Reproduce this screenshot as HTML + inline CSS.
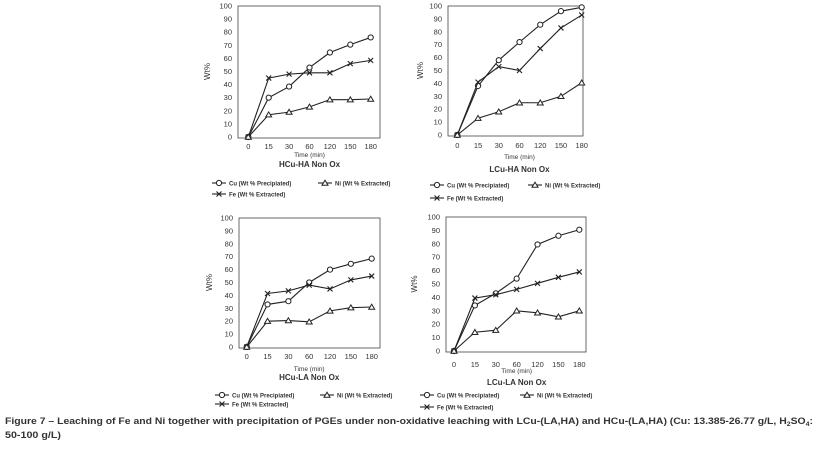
<!DOCTYPE html>
<html><head><meta charset="utf-8"><style>
html,body{margin:0;padding:0;background:#fff;}
svg{display:block;font-family:"Liberation Sans",sans-serif;}
</style></head><body>
<svg id="fig" width="819" height="449" viewBox="0 0 819 449" xmlns="http://www.w3.org/2000/svg">
<text x="5" y="424" font-size="9" font-weight="bold" fill="#333" textLength="808" lengthAdjust="spacingAndGlyphs">Figure 7 – Leaching of Fe and Ni together with precipitation of PGEs under non-oxidative leaching with LCu-(LA,HA)  and HCu-(LA,HA) (Cu: 13.385-26.77 g/L, H<tspan font-size="6" dy="2">2</tspan><tspan dy="-2">SO</tspan><tspan font-size="6" dy="2">4</tspan><tspan dy="-2">:</tspan></text>
<text x="5" y="438" font-size="9" font-weight="bold" fill="#333" textLength="56" lengthAdjust="spacingAndGlyphs">50-100 g/L)</text>
</svg>
<script>
const categories = ["0","15","30","60","120","150","180"];
const yTicks = [0,10,20,30,40,50,60,70,80,90,100];
const cuHCuHA = [0,30,38.5,53,64.5,70.5,76];
const feHCuHA = [0,45,48,49,49,56,58.5];
const niHCuHA = [0,17,19,23,28.5,28.5,29];
const cuLCuHA = [0,38,58,72,85.5,96,99];
const feLCuHA = [0,41,53,50,67,83,93];
const niLCuHA = [0,13,18,25,25,30,40.5];
const cuHCuLA = [0,33,35.5,50,60,64.5,68.5];
const feHCuLA = [0,41.5,43.5,48,45,52,55];
const niHCuLA = [0,20,20.5,19.5,28,30.5,31];
const cuLCuLA = [0,34,43,54,79.5,86,90.5];
const feLCuLA = [0,39.5,42,46,50.5,55,59];
const niLCuLA = [0,14,15.5,30,28.5,25.5,30];
const titles = ["HCu-HA Non Ox","LCu-HA Non Ox","HCu-LA Non Ox","LCu-LA Non Ox"];

const layouts = [
 {id:"hcu-ha", bl:238,br:380,top:6,y0:137,x0:248.3,x1:370.7,tickY:149,timeY:157,titleY:167,leg1:183,leg2:194,cuL:212,niL:318,wtX:210,cu:cuHCuHA,fe:feHCuHA,ni:niHCuHA,t:0},
 {id:"lcu-ha", bl:448,br:583,top:6,y0:135,x0:457.3,x1:581.7,tickY:148,timeY:159,titleY:172,leg1:185,leg2:198,cuL:430,niL:528,wtX:423,cu:cuLCuHA,fe:feLCuHA,ni:niLCuHA,t:1},
 {id:"hcu-la", bl:239,br:380,top:218,y0:347,x0:246.7,x1:371.7,tickY:359,timeY:371,titleY:380,leg1:395,leg2:404,cuL:215,niL:320,wtX:212,cu:cuHCuLA,fe:feHCuLA,ni:niHCuLA,t:2},
 {id:"lcu-la", bl:446,br:586,top:217,y0:351,x0:454,x1:579.3,tickY:367,timeY:373,titleY:385,leg1:395,leg2:407,cuL:420,niL:520,wtX:417,cu:cuLCuLA,fe:feLCuLA,ni:niLCuLA,t:3}
];
const NS="http://www.w3.org/2000/svg";
const svg=document.getElementById('fig');
function mk(tag,attrs,parent){const e=document.createElementNS(NS,tag);for(const k in attrs)e.setAttribute(k,attrs[k]);(parent||svg).appendChild(e);return e;}
function marker(g,kind,x,y){
  if(kind==='cu'){const m=mk('circle',{cx:x,cy:y,r:2.6,fill:'#fff',stroke:'#222','stroke-width':1},g);}
  else if(kind==='ni'){const m=mk('polygon',{points:`${x},${y-2.8} ${x-3},${y+2.2} ${x+3},${y+2.2}`,fill:'#fff',stroke:'#222','stroke-width':1},g);}
  else {const m=mk('path',{d:`M${x-2.5},${y-2.5}L${x+2.5},${y+2.5}M${x-2.5},${y+2.5}L${x+2.5},${y-2.5}`,stroke:'#222','stroke-width':1.1},g);}
}
layouts.forEach(L=>{
  const g=mk('g',{});
  
  
  const xs=i=>L.x0+(L.x1-L.x0)*i/(categories.length-1);
  const ys=v=>L.y0-(L.y0-L.top)*v/100;
  const box=mk('rect',{x:L.bl,y:L.top,width:L.br-L.bl,height:L.y0-L.top+1,fill:'none',stroke:'#444','stroke-width':0.8},g);
  
  yTicks.forEach(v=>{const t=mk('text',{x:L.bl-6,y:ys(v)+2.5,'font-size':7.5,'text-anchor':'end',fill:'#333'},g);t.textContent=v;});
  categories.forEach((c,i)=>{const t=mk('text',{x:xs(i),y:L.tickY,'font-size':7.5,'text-anchor':'middle',fill:'#333'},g);t.textContent=c;});
  const tm=mk('text',{x:(L.x0+L.x1)/2,y:L.timeY,'font-size':6.5,'text-anchor':'middle',fill:'#333'},g);tm.textContent='Time (min)';
  const tt=mk('text',{x:(L.x0+L.x1)/2,y:L.titleY,'font-size':8,'font-weight':'bold','text-anchor':'middle',fill:'#333'},g);tt.textContent=titles[L.t];
  const cy=(L.top+L.y0)/2;
  const wt=mk('text',{x:L.wtX,y:cy,'font-size':8,'text-anchor':'middle',fill:'#333',transform:`rotate(-90 ${L.wtX} ${cy})`},g);wt.textContent='Wt%';
  [['cu',L.cu],['fe',L.fe],['ni',L.ni]].forEach(([k,arr])=>{
    const pl=mk('polyline',{points:arr.map((v,i)=>xs(i)+','+ys(v)).join(' '),fill:'none',stroke:'#222','stroke-width':1.1},g);
    
    arr.forEach((v,i)=>marker(g,k,xs(i),ys(v)));
  });
  const leg=[['cu','Cu (Wt % Precipiated)',L.cuL,L.leg1],['ni','Ni (Wt % Extracted)',L.niL,L.leg1],['fe','Fe (Wt % Extracted)',L.cuL,L.leg2]];
  leg.forEach(([k,lab,x,y])=>{
    const lg=mk('g',{},g);
    mk('line',{x1:x,y1:y,x2:x+14,y2:y,stroke:'#222','stroke-width':1.1},lg);
    marker(lg,k,x+7,y);
    const t=mk('text',{x:x+17,y:y+2.3,'font-size':6,'font-weight':'bold',fill:'#333'},lg);t.textContent=lab;
  });
});
</script>
</body></html>
